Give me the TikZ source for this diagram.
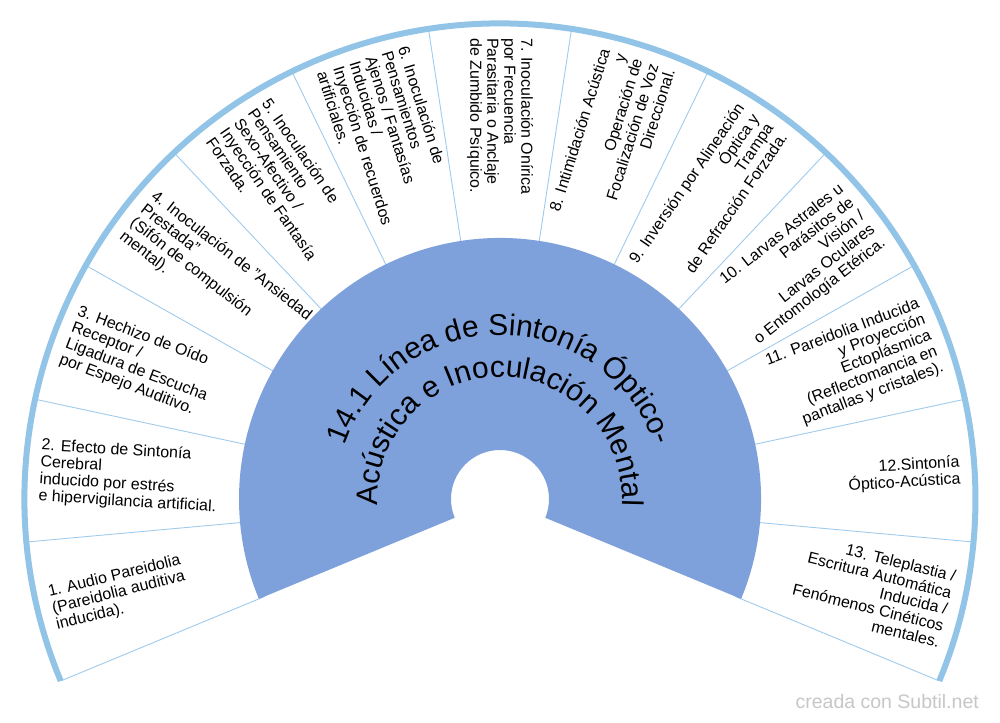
\documentclass[tikz,border=0pt]{standalone}
\usepackage{fontspec}
\setmainfont{Liberation Sans}
\usetikzlibrary{decorations.text}
\definecolor{fanblue}{RGB}{126,161,220}
\definecolor{ringblue}{RGB}{146,196,232}
\definecolor{lineblue}{RGB}{160,203,236}

\begin{document}
\begin{tikzpicture}[x=1pt, y=1pt,
    lbl/.style={font=\fontsize{16}{17}\selectfont, inner sep=0pt, align=left, anchor=west},
    rbl/.style={font=\fontsize{16}{17}\selectfont, inner sep=0pt, align=right, anchor=east},
    sep/.style={draw=lineblue, line width=0.9pt}]

    \fill[white] (-500,-223) rectangle (500,499);
    \useasboundingbox (-500,-223) rectangle (500,499);

    \draw[sep] (202.5:255) -- (202.5:475);
    \draw[sep] (185.192:255) -- (185.192:475);
    \draw[sep] (167.885:255) -- (167.885:475);
    \draw[sep] (150.577:255) -- (150.577:475);
    \draw[sep] (133.269:255) -- (133.269:475);
    \draw[sep] (115.962:255) -- (115.962:475);
    \draw[sep] (98.654:255) -- (98.654:475);
    \draw[sep] (81.346:255) -- (81.346:475);
    \draw[sep] (64.038:255) -- (64.038:475);
    \draw[sep] (46.731:255) -- (46.731:475);
    \draw[sep] (29.423:255) -- (29.423:475);
    \draw[sep] (12.115:255) -- (12.115:475);
    \draw[sep] (-5.192:255) -- (-5.192:475);
    \draw[sep] (-22.5:255) -- (-22.5:475);

    \fill[fanblue] (202.5:49) arc[start angle=202.5, end angle=-22.5, radius=49]
      -- (-22.5:261) arc[start angle=-22.5, end angle=202.5, radius=261] -- cycle;
    \draw[ringblue, line width=6pt] (202.5:475.5) arc[start angle=202.5, end angle=-22.5, radius=475.5];

    \path[decorate, decoration={text along path, text align=center,
      text={|\fontsize{30}{30}\selectfont|14.1 Línea de Sintonía Óptico-}}]
      (200:164) arc[start angle=200, end angle=-20, radius=164];
    \path[decorate, decoration={text along path, text align=center,
      text={|\fontsize{30}{30}\selectfont|Acústica e Inoculación Mental}}]
      (200:122) arc[start angle=200, end angle=-20, radius=122];

    \node [lbl, rotate=13.846] (s1) at (193.846:461) {1. Audio Pareidolia\\(Pareidolia auditiva\\inducida).};
    \node [lbl, rotate=-3.462] (s2) at (176.538:461) {2. Efecto de Sintonía\\Cerebral\\inducido por estrés\\e hipervigilancia artificial.};
    \node [lbl, rotate=-20.769] (s3) at (159.231:461) {3. Hechizo de Oído\\Receptor /\\Ligadura de Escucha\\por Espejo Auditivo.};
    \node [lbl, rotate=-38.077] (s4) at (141.923:461) {4. Inoculación de "Ansiedad\\Prestada"\\(Sifón de compulsión\\mental).};
    \node [lbl, rotate=-55.385] (s5) at (124.615:461) {5. Inoculación de\\Pensamiento\\Sexo-Afectivo /\\Inyección de Fantasía\\Forzada.};
    \node [lbl, rotate=-72.692] (s6) at (107.308:461) {6. Inoculación de\\Pensamientos\\Ajenos / Fantasías\\Inducidas /\\Inyección de recuerdos\\artificiales.};
    \node [lbl, rotate=-90] (s7) at (90:461) {7. Inoculación Onírica\\por Frecuencia\\Parasitaria o Anclaje\\de Zumbido Psíquico.};
    \node [rbl, rotate=72.692] (s8) at (72.692:461) {8. Intimidación Acústica\\y\\Operación de\\Focalización de Voz\\Direccional.};
    \node [rbl, rotate=55.385] (s9) at (55.385:461) {9. Inversión por Alineación\\Óptica y\\Trampa\\de Refracción Forzada.};
    \node [rbl, rotate=38.077] (s10) at (38.077:461) {10. Larvas Astrales u\\Parásitos de\\Visión /\\Larvas Oculares\\o Entomología Etérica.};
    \node [rbl, rotate=20.769] (s11) at (20.769:461) {11. Pareidolia Inducida\\y Proyección\\Ectoplásmica\\(Reflectomancia en\\pantallas y cristales).};
    \node [rbl, rotate=3.462] (s12) at (3.462:461) {12.Sintonía\\Óptico-Acústica};
    \node [rbl, rotate=-13.846] (s13) at (-13.846:461) {13. Teleplastia /\\Escritura Automática\\Inducida /\\Fenómenos Cinéticos\\mentales.};

    \node [anchor=base east, text=black!22, font=\fontsize{19.5}{20}\selectfont, inner sep=0pt] (mark) at (479,-209) {creada con Subtil.net};
\end{tikzpicture}
\end{document}
